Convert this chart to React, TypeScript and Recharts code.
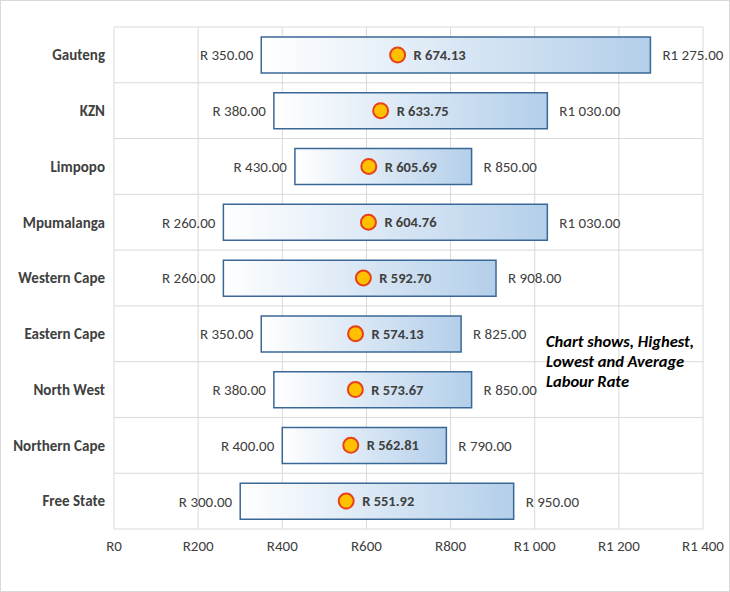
import React from 'react';
import {
  ComposedChart,
  Bar,
  Line,
  XAxis,
  YAxis,
  CartesianGrid,
  LabelList,
} from 'recharts';

// Labour rates per province
const provinces = ['Gauteng', 'KZN', 'Limpopo', 'Mpumalanga', 'Western Cape', 'Eastern Cape', 'North West', 'Northern Cape', 'Free State'];
const lowest = [350, 380, 430, 260, 260, 350, 380, 400, 300];
const average = [674.13, 633.75, 605.69, 604.76, 592.7, 574.13, 573.67, 562.81, 551.92];
const highest = [1275, 1030, 850, 1030, 908, 825, 850, 790, 950];
const xTicks = [0, 200, 400, 600, 800, 1000, 1200, 1400];

const FONT = 'Calibri, Carlito, Lato, "Open Sans", sans-serif';
const TEXT = '#404040';

const fmtMoney = (n: number) => {
  const s = n.toFixed(2);
  const [int, dec] = s.split('.');
  if (n >= 1000) {
    return `R${int.slice(0, int.length - 3)} ${int.slice(-3)}.${dec}`;
  }
  return `R ${int}.${dec}`;
};

const fmtAxis = (n: number) => {
  if (n >= 1000) {
    const s = String(n);
    return `R${s.slice(0, s.length - 3)} ${s.slice(-3)}`;
  }
  return `R${n}`;
};

const data = provinces.map((name, i) => ({
  name,
  low: lowest[i],
  range: highest[i] - lowest[i],
  high: highest[i],
  avg: average[i],
}));

const LowLabel = (props: any) => {
  const { x, y, width, height, value } = props;
  return (
    <text x={x + width - 8} y={y + height / 2} dy="0.35em" textAnchor="end" fill={TEXT} fontSize={15} fontFamily={FONT}>
      {fmtMoney(value)}
    </text>
  );
};

const HighLabel = (props: any) => {
  const { x, y, width, height, value } = props;
  return (
    <text x={x + width + 12} y={y + height / 2} dy="0.35em" textAnchor="start" fill={TEXT} fontSize={15} fontFamily={FONT}>
      {fmtMoney(value)}
    </text>
  );
};

const AvgLabel = (props: any) => {
  const { x, y, value } = props;
  return (
    <text x={x + 16} y={y} dy="0.35em" textAnchor="start" fill={TEXT} fontSize={14.5} fontWeight="bold" fontFamily={FONT}>
      {fmtMoney(value)}
    </text>
  );
};

const AvgDot = (props: any) => {
  const { cx, cy, index } = props;
  return <circle key={index} cx={cx} cy={cy} r={7.5} fill="#FFC000" stroke="#E8401C" strokeWidth={2} />;
};

export default function App() {
  return (
    <div style={{ position: 'absolute', left: 0, top: 0, width: 730, height: 592, boxSizing: 'border-box', border: '1px solid #d9d9d9', background: '#fff' }}>
      <ComposedChart
        width={728}
        height={590}
        data={data}
        layout="vertical"
        margin={{ top: 26, right: 26, left: 0, bottom: 0 }}
        barCategoryGap="18%"
      >
        <defs>
          <linearGradient id="rangeFill" x1="0" y1="0" x2="1" y2="0">
            <stop offset="0%" stopColor="#FFFFFF" />
            <stop offset="100%" stopColor="#B4CFEA" />
          </linearGradient>
        </defs>
        <CartesianGrid
          stroke="#d9d9d9"
          horizontalCoordinatesGenerator={({ offset }: any) =>
            provinces.map((_, i) => offset.top + (i * offset.height) / provinces.length).concat(offset.top + offset.height)
          }
        />
        <XAxis
          type="number"
          domain={[0, 1400]}
          ticks={xTicks}
          tickFormatter={fmtAxis}
          axisLine={false}
          tickLine={false}
          tickMargin={5}
          height={62}
          tick={{ fill: TEXT, fontSize: 15, fontFamily: FONT }}
        />
        <YAxis
          type="category"
          dataKey="name"
          width={113}
          axisLine={false}
          tickLine={false}
          tickMargin={3}
          tick={{ fill: TEXT, fontSize: 15, fontWeight: 'bold', fontFamily: FONT }}
        />
        <Bar dataKey="low" stackId="a" fill="transparent" isAnimationActive={false}>
          <LabelList dataKey="low" content={LowLabel} />
        </Bar>
        <Bar dataKey="range" stackId="a" fill="url(#rangeFill)" stroke="#3A6896" strokeWidth={1.5} isAnimationActive={false}>
          <LabelList dataKey="high" content={HighLabel} />
        </Bar>
        <Line dataKey="avg" stroke="none" dot={AvgDot} activeDot={false} isAnimationActive={false}>
          <LabelList dataKey="avg" content={AvgLabel} />
        </Line>
      </ComposedChart>
      <div
        style={{
          position: 'absolute',
          left: 545,
          top: 330,
          fontFamily: FONT,
          fontSize: 16.5,
          fontWeight: 'bold',
          fontStyle: 'italic',
          lineHeight: '20px',
          color: '#000',
        }}
      >
        Chart shows, Highest,
        <br />
        Lowest and Average
        <br />
        Labour Rate
      </div>
    </div>
  );
}
